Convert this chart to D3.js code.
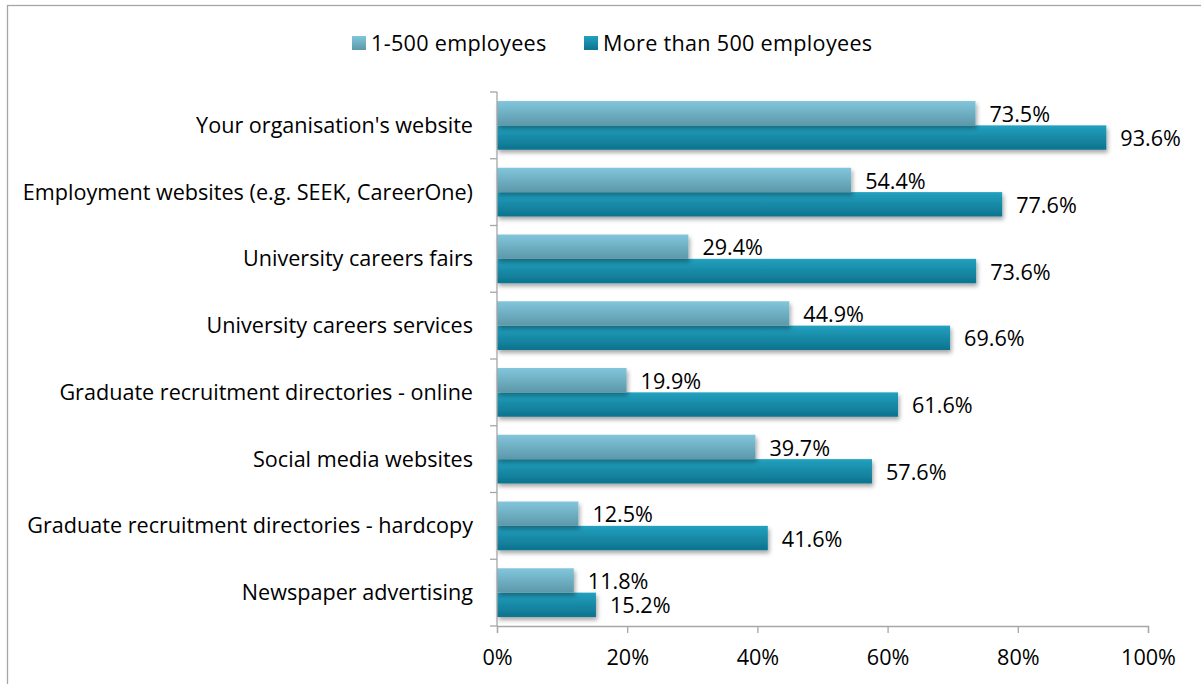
<!DOCTYPE html>
<html>
<head>
<meta charset="utf-8">
<script src="https://cdn.jsdelivr.net/npm/d3@7/dist/d3.min.js"></script>
<style>
  html, body { margin: 0; padding: 0; background: #fff; }
  svg { display: block; }
  text { font-family: "Open Sans", "Noto Sans", sans-serif; fill: #000; }
</style>
</head>
<body>
<svg id="chart" width="1201" height="684"></svg>
<script>
// Recruitment channels used, by organisation size (% of employers)
const categories = [
  "Your organisation's website",
  "Employment websites (e.g. SEEK, CareerOne)",
  "University careers fairs",
  "University careers services",
  "Graduate recruitment directories - online",
  "Social media websites",
  "Graduate recruitment directories - hardcopy",
  "Newspaper advertising"
];
const seriesNames = ["1-500 employees", "More than 500 employees"];
const small = [73.5, 54.4, 29.4, 44.9, 19.9, 39.7, 12.5, 11.8];
const large = [93.6, 77.6, 73.6, 69.6, 61.6, 57.6, 41.6, 15.2];
const xTicks = [0, 20, 40, 60, 80, 100];

const svg = d3.select("#chart");
const W = 1201, H = 684;
const margin = { left: 497, right: 53, top: 92, bottom: 58 };
const FS = 21.6;

// Chart area frame (only top and left edges fall inside the window)
svg.append("rect")
  .attr("x", 7.5).attr("y", 5.5)
  .attr("width", W + 20).attr("height", H + 20)
  .attr("fill", "none").attr("stroke", "#a6a6a6").attr("stroke-width", 1.3);

const defs = svg.append("defs");
const grads = [
  { id: "gLight", stops: [["0%", "#82c6dc"], ["100%", "#5c98a9"]] },
  { id: "gDark", stops: [["0%", "#22a1bf"], ["100%", "#0d738e"]] }
];
grads.forEach(g => {
  const lg = defs.append("linearGradient").attr("id", g.id)
    .attr("x1", 0).attr("y1", 0).attr("x2", 0).attr("y2", 1);
  g.stops.forEach(s => lg.append("stop").attr("offset", s[0]).attr("stop-color", s[1]));
});
const shadow = defs.append("filter").attr("id", "shadow")
  .attr("x", "-5%").attr("y", "-20%").attr("width", "115%").attr("height", "160%");
shadow.append("feDropShadow").attr("dx", 1.5).attr("dy", 3).attr("stdDeviation", 2.2)
  .attr("flood-color", "#000").attr("flood-opacity", 0.35);

const x = d3.scaleLinear().domain([0, 100]).range([margin.left, W - margin.right]);
const y = d3.scaleBand().domain(categories).range([margin.top, H - margin.bottom]).paddingInner(0.27).paddingOuter(0.135);
const ySub = d3.scaleBand().domain([0, 1]).range([0, y.bandwidth()]);

const data = categories.map((c, i) => ({ cat: c, vals: [small[i], large[i]] }));

const groups = svg.append("g").selectAll("g").data(data).join("g")
  .attr("transform", d => `translate(0,${y(d.cat)})`);

[1, 0].forEach(s => {
  groups.append("rect")
    .attr("x", x(0))
    .attr("y", ySub(s))
    .attr("width", d => x(d.vals[s]) - x(0))
    .attr("height", ySub.bandwidth())
    .attr("fill", s === 0 ? "url(#gLight)" : "url(#gDark)")
    .attr("filter", "url(#shadow)");
});

groups.selectAll("text.val").data(d => d.vals).join("text")
  .attr("class", "val")
  .attr("x", v => x(v) + 14)
  .attr("y", (v, s) => ySub(s) + ySub.bandwidth() / 2 + 1)
  .attr("dy", "0.35em")
  .attr("font-size", FS)
  .text(v => v.toFixed(1) + "%");

// Axes
const axisColor = "#a6a6a6";
const boundaries = d3.range(categories.length + 1).map(i => margin.top + i * (H - margin.bottom - margin.top) / categories.length);

const yAxis = svg.append("g");
yAxis.append("line")
  .attr("x1", x(0)).attr("x2", x(0))
  .attr("y1", margin.top).attr("y2", H - margin.bottom)
  .attr("stroke", axisColor).attr("stroke-width", 1.3);
yAxis.selectAll("line.tk").data(boundaries).join("line")
  .attr("class", "tk")
  .attr("x1", x(0) - 7).attr("x2", x(0))
  .attr("y1", d => d).attr("y2", d => d)
  .attr("stroke", axisColor).attr("stroke-width", 1.3);
yAxis.selectAll("text").data(categories).join("text")
  .attr("x", x(0) - 24)
  .attr("y", c => y(c) + y.bandwidth() / 2)
  .attr("dy", "0.35em")
  .attr("text-anchor", "end")
  .attr("font-size", FS)
  .text(c => c);

const xAxis = svg.append("g")
  .attr("transform", `translate(0,${H - margin.bottom})`)
  .call(d3.axisBottom(x).tickValues(xTicks).tickSize(7).tickPadding(17).tickFormat(d => d + "%"));
xAxis.select(".domain").attr("stroke", axisColor).attr("stroke-width", 1.3);
xAxis.selectAll(".tick line").attr("stroke", axisColor).attr("stroke-width", 1.3);
xAxis.selectAll(".tick text").attr("font-size", FS).attr("fill", "#000")
  .style("font-family", "'Open Sans', 'Noto Sans', sans-serif");

// Legend
const legend = svg.append("g");
const legendX = [352, 584];
seriesNames.forEach((n, i) => {
  legend.append("rect")
    .attr("x", legendX[i]).attr("y", 36)
    .attr("width", 14).attr("height", 14)
    .attr("fill", i === 0 ? "url(#gLight)" : "url(#gDark)");
  legend.append("text")
    .attr("x", legendX[i] + 19).attr("y", 43)
    .attr("dy", "0.35em")
    .attr("font-size", FS)
    .style("letter-spacing", "0.3px")
    .text(n);
});
</script>
</body>
</html>
